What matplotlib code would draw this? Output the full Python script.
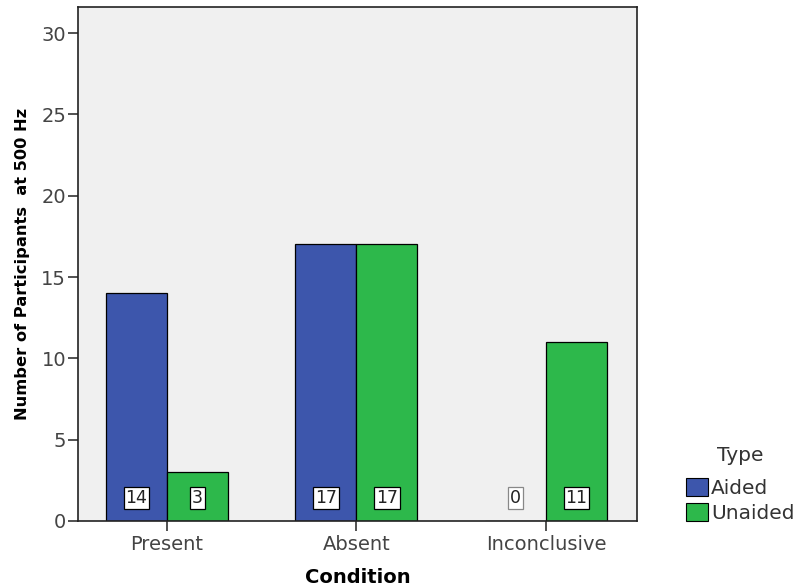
import numpy as np
import matplotlib.pyplot as plt
import matplotlib.patches as mpatches

# -----------------------------------------------------------------------------
# Data
# -----------------------------------------------------------------------------
conditions = ["Present", "Absent", "Inconclusive"]
aided      = [14, 17, 0]
unaided    = [3, 17, 11]
types      = ["Aided", "Unaided"]
colors     = ["#3D56AC", "#2DB84B"]

# -----------------------------------------------------------------------------
# Figure
# -----------------------------------------------------------------------------
fig = plt.figure(figsize=(7.96, 5.88), dpi=100)
ax = fig.add_axes([0.098, 0.114, 0.702, 0.874])
ax.set_facecolor("#F0F0F0")

x = np.arange(len(conditions))
w = 0.322
for off, vals, col in [(-w / 2, aided, colors[0]), (w / 2, unaided, colors[1])]:
    ax.bar(x + off, vals, width=w, color=col, edgecolor="black",
           linewidth=0.9, zorder=2)
    for xi, v in zip(x + off, vals):
        ec = "#888888" if v == 0 else "black"
        ax.text(xi, 1.4, f"{v}", ha="center", va="center", fontsize=12.5,
                color="#222222", zorder=4,
                bbox=dict(boxstyle="square,pad=0.1", fc="white", ec=ec, lw=0.9))

ax.set_xlim(-0.47, 2.48)
ax.set_ylim(0, 31.6)
ax.set_yticks([0, 5, 10, 15, 20, 25, 30])
ax.set_xticks(x)
ax.set_xticklabels(conditions)
ax.tick_params(axis="both", direction="out", length=7, width=1.2,
               labelsize=14, labelcolor="#444444", color="#333333")
ax.tick_params(axis="y", pad=1.5)
ax.tick_params(axis="x", pad=3)
for s in ax.spines.values():
    s.set_linewidth(1.2)
    s.set_color("#222222")

ax.set_xlabel("Condition", fontsize=14, fontweight="bold", labelpad=10)
ax.set_ylabel("Number of Participants  at 500 Hz", fontsize=11.7,
              fontweight="bold", labelpad=8)

handles = [mpatches.Patch(facecolor=c, edgecolor="black", lw=0.8, label=t)
           for c, t in zip(colors, types)]
leg = fig.legend(handles=handles, title="Type", loc="upper left",
                 bbox_to_anchor=(0.862, 0.242), frameon=False, fontsize=14.5,
                 title_fontsize=14.5, handlelength=1.1, handleheight=1.0,
                 handletextpad=0.15, labelspacing=0.25, borderpad=0,
                 borderaxespad=0)
leg._legend_box.sep = 9.5
for t in leg.get_texts():
    t.set_color("#333333")
leg.get_title().set_color("#333333")

fig.savefig("out.png", dpi=100)
